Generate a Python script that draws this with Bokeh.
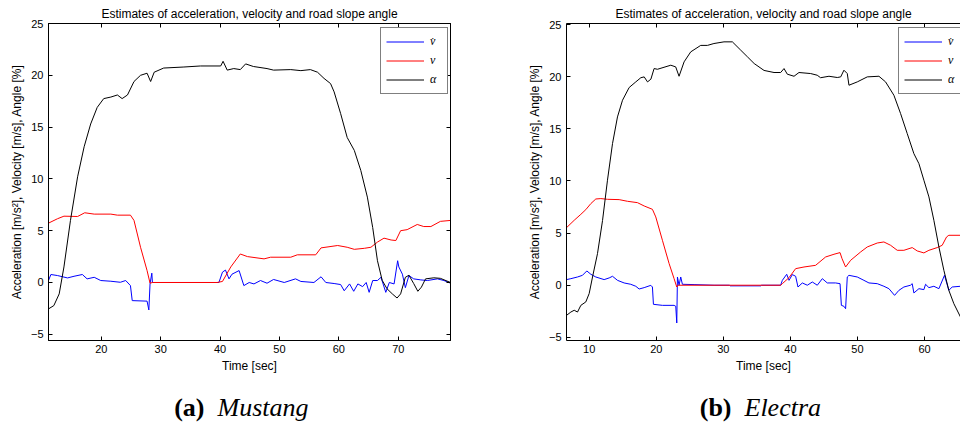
from bokeh.plotting import figure
from bokeh.models import Range1d, FixedTicker, LinearAxis, Legend, LegendItem, Label
from bokeh.layouts import column, row
from bokeh.embed import file_html
from bokeh.resources import INLINE

TITLE = "Estimates of acceleration, velocity and road slope angle"
XLABEL = "Time [sec]"
YLABEL = "Acceleration [m/s\u00b2], Velocity [m/s], Angle [%]"
LEGEND_LABELS = ["v\u0307", "v", "\u03b1"]
X_TICKS = [10, 20, 30, 40, 50, 60, 70]
Y_TICKS = [-5, 0, 5, 10, 15, 20, 25]
CAPTION_TAGS = ["(a)", "(b)"]
CAPTION_NAMES = ["Mustang", "Electra"]

# ---- (a) Mustang ----
mustang_alpha_t = [11.1, 12.0, 12.9, 13.7, 14.8, 16.0, 17.1, 18.2, 19.3, 20.4, 21.6, 22.7, 23.5, 24.4, 25.5,
                   26.6, 27.7, 28.3, 28.9, 30.5, 33.9, 36.7, 40.1, 40.5, 41.2, 42.3, 43.4, 44.3, 45.6, 47.9,
                   49.0, 51.9, 53.6, 55.2, 56.4, 57.5, 58.6, 59.2, 60.3, 61.4, 62.6, 63.7, 64.8, 65.7, 66.5,
                   67.3, 68.1, 69.0, 69.8, 70.4, 71.2, 71.8, 72.6, 73.3, 73.9, 74.6, 76.0, 77.1, 78.8]
mustang_alpha = [-2.55, -2.23, -1.1, 1.5, 6.0, 10.2, 13.1, 15.3, 16.9, 17.75, 17.9, 18.1, 17.75, 18.1, 19.4,
                 20.0, 20.2, 19.4, 20.3, 20.7, 20.8, 20.9, 20.9, 21.35, 20.5, 20.65, 20.55, 21.1, 20.85, 20.65,
                 20.5, 20.55, 20.45, 20.55, 20.3, 19.7, 19.2, 18.4, 16.3, 14.0, 12.75, 10.8, 8.24, 5.3, 2.1,
                 0.2, -0.6, -1.1, -1.5, -1.1, 0.5, 0.7, -0.1, -0.85, -0.45, 0.35, 0.45, 0.4, 0.0]

mustang_v_t = [11.1, 12.6, 13.7, 16.0, 17.2, 18.8, 21.6, 22.7, 24.9, 25.5, 26.6, 27.7, 28.2, 28.6, 39.5,
               40.4, 41.8, 43.4, 44.6, 47.4, 48.5, 51.9, 53.0, 56.1, 57.0, 59.8, 61.4, 62.6, 64.3, 65.4,
               66.5, 67.6, 68.8, 69.6, 70.4, 71.5, 73.2, 74.3, 75.5, 77.1, 78.8]
mustang_v = [5.73, 6.15, 6.4, 6.37, 6.73, 6.6, 6.6, 6.5, 6.5, 5.99, 3.4, 1.15, -0.07, 0.0, 0.0,
             0.1, 1.5, 2.75, 2.5, 2.28, 2.44, 2.44, 2.67, 2.67, 3.34, 3.57, 3.4, 3.2, 3.3, 3.4,
             3.9, 4.28, 4.1, 4.05, 5.0, 5.1, 5.6, 5.4, 5.4, 5.9, 5.99]

mustang_a_t = [11.1, 11.5, 12.6, 14.3, 15.4, 16.8, 17.6, 18.8, 19.9, 21.6, 23.2, 24.1, 24.9, 25.2, 27.7,
               28.0, 28.2, 28.5, 28.6, 30.0, 39.8, 40.4, 40.9, 41.5, 42.0, 43.2, 44.0, 44.9, 45.7, 46.8,
               47.9, 49.0, 50.8, 52.7, 53.6, 55.8, 57.0, 57.8, 59.2, 60.3, 60.9, 61.8, 62.5, 63.2, 64.0,
               64.6, 65.1, 65.7, 66.5, 67.1, 67.9, 68.5, 69.3, 69.9, 70.1, 70.7, 71.2, 71.8, 72.6, 73.8,
               74.9, 76.6, 77.7, 78.8]
mustang_a = [0.19, 0.77, 0.67, 0.44, 0.6, 0.77, 0.35, 0.5, 0.19, 0.12, 0.02, 0.19, -0.3, -1.75, -1.8,
             -2.65, -0.14, 0.9, 0.0, 0.0, 0.0, 1.0, 1.2, 0.35, 0.8, 1.15, -0.3, 0.0, -0.14, 0.19,
             -0.07, 0.29, 0.0, 0.35, 0.1, 0.0, 0.55, 0.0, -0.1, -0.2, -0.8, -0.14, -0.85, -0.14, -0.4,
             0.0, -0.95, 0.19, 0.19, 0.5, -0.95, 0.0, -0.14, 2.1, 1.5, 0.8, -0.5, 0.67, 0.35, 0.25,
             0.19, 0.35, 0.19, -0.07]

# ---- (b) Electra ----
electra_alpha_t = [6.62, 7.27, 7.77, 8.26, 8.76, 9.5, 10.0, 10.5, 11.24, 11.99, 12.73, 13.48, 14.22, 14.97, 15.96,
                   16.95, 17.7, 18.2, 18.7, 19.2, 19.68, 20.18, 22.17, 22.9, 23.4, 24.15, 25.14, 26.63, 27.63, 28.6,
                   30.1, 31.35, 32.6, 33.6, 34.6, 36.07, 37.56, 38.55, 39.05, 39.54, 40.54, 41.28, 43.02, 44.0, 44.5,
                   45.75, 46.99, 47.5, 47.98, 48.48, 48.73, 49.97, 51.46, 53.2, 54.19, 55.43, 56.43, 57.42, 58.41, 59.16,
                   59.9, 60.65, 61.39, 62.14, 62.88, 63.62, 64.37, 65.36]
electra_alpha = [-2.89, -2.57, -2.4, -2.57, -1.93, -1.6, -0.8, 0.79, 3.03, 6.2, 10.07, 13.58, 16.14, 17.74, 18.96,
                 19.5, 19.9, 19.98, 19.5, 19.76, 20.78, 20.71, 21.1, 20.94, 20.04, 21.42, 22.38, 23.0, 23.0, 23.18,
                 23.34, 23.34, 22.54, 21.9, 21.26, 20.6, 20.4, 20.4, 20.78, 20.24, 20.04, 20.4, 20.3, 20.14, 19.9,
                 20.04, 19.92, 19.98, 20.62, 20.3, 19.18, 19.5, 19.98, 20.04, 19.5, 18.22, 16.46, 14.54, 12.62, 11.66,
                 10.07, 8.47, 6.23, 3.67, 1.43, -0.49, -1.77, -3.05]

electra_v_t = [6.62, 7.77, 8.76, 9.5, 10.25, 10.99, 11.74, 12.73, 14.47, 15.71, 17.2, 18.2, 19.43, 19.93, 20.92,
               21.92, 22.66, 23.06, 23.26, 38.55, 38.8, 39.8, 40.78, 42.03, 43.76, 45.25, 46.5, 47.4, 47.7, 48.23,
               48.98, 50.47, 51.46, 52.95, 53.94, 54.94, 55.93, 56.92, 58.16, 58.91, 59.9, 60.65, 61.89, 62.63, 63.28,
               63.62, 65.36]
electra_v = [5.52, 6.23, 6.8, 7.25, 7.83, 8.27, 8.31, 8.24, 8.21, 8.05, 7.92, 7.6, 7.28, 6.55, 4.31,
             2.07, 0.63, -0.17, 0.0, 0.0, 0.15, 0.73, 1.59, 1.75, 1.91, 2.71, 2.97, 3.13, 2.55, 1.75,
             2.39, 3.19, 3.67, 4.05, 4.15, 3.83, 3.35, 3.35, 3.61, 3.29, 3.1, 3.35, 3.61, 3.83, 4.63,
             4.79, 4.79]

electra_a_t = [6.62, 7.27, 8.26, 9.0, 9.65, 10.25, 10.99, 12.23, 12.98, 13.48, 14.22, 15.21, 16.2, 16.95, 17.45,
               18.2, 19.19, 19.43, 19.58, 20.92, 22.66, 22.91, 23.06, 23.16, 23.4, 23.65, 23.9, 25.64, 28.62, 30.9,
               31.0, 35.6, 35.7, 38.55, 38.8, 39.45, 39.8, 40.29, 40.78, 41.13, 41.78, 42.52, 43.27, 44.01, 44.76,
               45.5, 46.74, 47.4, 47.6, 47.98, 48.23, 48.48, 48.73, 49.97, 50.96, 51.71, 52.95, 53.94, 54.69, 55.53,
               56.18, 56.92, 57.91, 58.16, 58.41, 59.16, 59.9, 60.15, 60.65, 61.39, 62.14, 62.97, 63.62, 64.12, 65.36]
electra_a = [0.54, 0.63, 0.79, 0.95, 1.37, 1.05, 0.79, 0.54, 0.7, 0.86, 0.47, 0.22, 0.09, -0.1, -0.36,
             -0.23, -0.01, -0.17, -1.83, -1.93, -1.93, -2.02, -3.62, 0.79, 0.0, 0.79, 0.09, 0.06, 0.0, 0.0,
             -0.06, -0.06, 0.0, 0.0, 0.47, 1.05, 0.47, 1.02, 0.86, -0.17, 0.22, 0.0, 0.31, 0.0, 0.63,
             0.22, 0.22, 0.15, -1.93, -2.02, -2.25, 0.79, 0.95, 0.79, 0.47, 0.22, 0.15, -0.1, -0.33, -0.97,
             -0.49, -0.17, 0.0, 0.15, -0.74, -0.33, -0.42, 0.09, -0.23, -0.1, -0.33, 0.95, -0.49, -0.17, -0.1]

COLORS = ["#0000ff", "#ff0000", "#000000"]
SANS = "Liberation Sans"
SERIF = "Liberation Serif"


def style_axis(ax, ticks, show_labels=True):
    ax.ticker = FixedTicker(ticks=ticks)
    ax.axis_line_color = "black"
    ax.axis_line_width = 1
    ax.major_tick_line_color = "black"
    ax.major_tick_in = 4
    ax.major_tick_out = 0
    ax.minor_tick_line_color = None
    ax.major_label_text_font = SANS
    ax.axis_label_text_font = SANS
    ax.axis_label_text_font_style = "normal"
    ax.axis_label_text_font_size = "12px"
    ax.axis_label_text_color = "black"
    if show_labels:
        ax.major_label_text_font_size = "11px"
        ax.major_label_text_color = "black"
    else:
        # tick marks only (MATLAB box ticks); labels are not drawn
        ax.major_label_text_font_size = "1px"
        ax.major_label_text_color = None
        ax.major_label_standoff = 0


def make_panel(xr, yr, border_left, frame_width, border_right, series, box_right):
    p = figure(frame_width=frame_width, frame_height=317,
               x_range=Range1d(*xr), y_range=Range1d(*yr),
               min_border_left=border_left, min_border_right=border_right,
               min_border_top=23, min_border_bottom=40,
               output_backend="svg", toolbar_location=None)
    p.xgrid.visible = False
    p.ygrid.visible = False
    p.background_fill_color = "white"
    p.border_fill_color = "white"
    p.outline_line_color = "black" if box_right else None

    p.title.text = TITLE
    p.title.align = "center"
    p.title.text_font = SANS
    p.title.text_font_size = "12px"
    p.title.text_font_style = "normal"
    p.title.text_color = "black"
    p.title.standoff = 6

    style_axis(p.xaxis[0], X_TICKS)
    p.xaxis[0].axis_label = XLABEL
    p.xaxis[0].major_label_standoff = 4
    p.xaxis[0].axis_label_standoff = 3
    style_axis(p.yaxis[0], Y_TICKS)
    p.yaxis[0].axis_label = YLABEL
    p.yaxis[0].major_label_standoff = 5
    p.yaxis[0].axis_label_standoff = 4

    top = LinearAxis()
    style_axis(top, X_TICKS, show_labels=False)
    p.add_layout(top, "above")
    if box_right:
        right = LinearAxis()
        style_axis(right, Y_TICKS, show_labels=False)
        p.add_layout(right, "right")

    items = []
    for (t, y), color, lab in zip(series, COLORS, LEGEND_LABELS):
        r = p.line(t, y, line_color=color, line_width=1)
        items.append(LegendItem(label=lab, renderers=[r]))

    leg = Legend(items=items, location=(frame_width - 70 if box_right else 332, 246),
                 padding=5, spacing=2, label_height=17, glyph_height=17, glyph_width=38,
                 label_standoff=6, label_width=12, margin=0,
                 label_text_font=SERIF, label_text_font_style="italic",
                 label_text_font_size="12px", label_text_color="black",
                 border_line_color="black", border_line_width=1,
                 background_fill_color="white", background_fill_alpha=1.0)
    p.add_layout(leg)
    return p


p1 = make_panel((11.1, 78.8), (-5.6, 25.0), 48, 402, 30,
                [(mustang_a_t, mustang_a), (mustang_v_t, mustang_v), (mustang_alpha_t, mustang_alpha)], True)
p2 = make_panel((6.62, 65.36), (-5.3, 25.1), 86, 394, 0,
                [(electra_a_t, electra_a), (electra_v_t, electra_v), (electra_alpha_t, electra_alpha)], False)

cap = figure(width=960, height=45, x_range=Range1d(0, 960), y_range=Range1d(0, 45),
             x_axis_type=None, y_axis_type=None, min_border=0,
             output_backend="svg", toolbar_location=None)
cap.xgrid.visible = False
cap.ygrid.visible = False
cap.outline_line_color = None
for tag, name, xc in zip(CAPTION_TAGS, CAPTION_NAMES, [204, 731]):
    cap.add_layout(Label(x=xc, y=18, text=tag, text_font=SERIF, text_font_style="bold",
                         text_font_size="26px", text_align="right", text_baseline="middle",
                         text_color="black"))
    cap.add_layout(Label(x=xc + 13, y=18, text=name, text_font=SERIF, text_font_style="italic",
                         text_font_size="26px", text_align="left", text_baseline="middle",
                         text_color="black"))

p = column(row(p1, p2), cap)
open("out.html", "w").write(file_html(p, INLINE))
